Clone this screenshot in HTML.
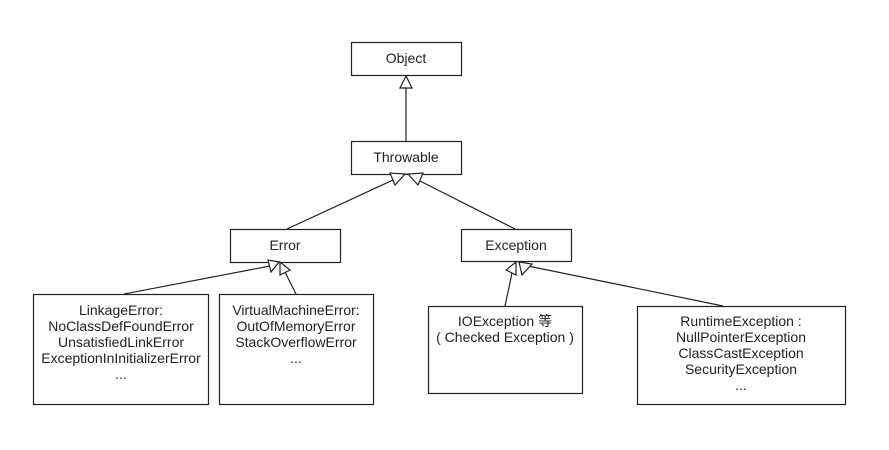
<!DOCTYPE html>
<html><head><meta charset="utf-8"><style>
html,body{margin:0;padding:0;background:#fff;}
svg{display:block}
text{font-family:"Liberation Sans","Noto Sans CJK SC",sans-serif;font-size:14px;fill:#222;text-anchor:middle}
</style></head><body>
<svg width="889" height="450" viewBox="0 0 889 450" xmlns="http://www.w3.org/2000/svg">
<g fill="#fff" stroke="#222" stroke-width="1.2">
<rect x="351.5" y="42.5" width="110" height="33"/>
<rect x="351.5" y="141.5" width="110" height="33"/>
<rect x="230.5" y="229.5" width="110" height="33"/>
<rect x="461.5" y="229.5" width="110" height="32"/>
<rect x="33.5" y="294.5" width="175" height="110"/>
<rect x="219.5" y="294.5" width="154" height="110"/>
<rect x="428.5" y="306.5" width="154" height="87"/>
<rect x="637.5" y="306.5" width="208" height="98"/>
</g>
<g stroke="#222" stroke-width="1.2" fill="none">
<line x1="406" y1="141" x2="406" y2="88"/>
<line x1="287" y1="229" x2="393" y2="180"/>
<line x1="515" y1="229" x2="418" y2="180"/>
<line x1="124" y1="294" x2="270" y2="266"/>
<line x1="296" y1="294" x2="285" y2="272"/>
<line x1="505" y1="306" x2="512" y2="273"/>
<line x1="723" y1="306" x2="528" y2="266"/>
</g>
<g fill="#fff" stroke="#222" stroke-width="1.2">
<polygon points="406,76 400,88 412,88"/>
<polygon points="405,174 390,173 395,185"/>
<polygon points="408,174 418,185 423,173"/>
<polygon points="279,262 268,260 271,272"/>
<polygon points="280,262 280,275 290,270"/>
<polygon points="516,262 506,270 516,275"/>
<polygon points="519,262 522,275 532,264"/>
</g>
<text x="406" y="63">Object</text>
<text x="406" y="162">Throwable</text>
<text x="285" y="250">Error</text>
<text x="516" y="250">Exception</text>
<text x="121" y="315">LinkageError:</text>
<text x="121" y="331">NoClassDefFoundError</text>
<text x="121" y="347">UnsatisfiedLinkError</text>
<text x="121" y="363">ExceptionInInitializerError</text>
<text x="121" y="379">...</text>
<text x="296" y="315">VirtualMachineError:</text>
<text x="296" y="331">OutOfMemoryError</text>
<text x="296" y="347">StackOverflowError</text>
<text x="296" y="363">...</text>
<text x="505" y="326">IOException 等</text>
<text x="505" y="342">( Checked Exception )</text>
<text x="741" y="326">RuntimeException :</text>
<text x="741" y="342">NullPointerException</text>
<text x="741" y="358">ClassCastException</text>
<text x="741" y="374">SecurityException</text>
<text x="741" y="390">...</text>
</svg>
</body></html>
